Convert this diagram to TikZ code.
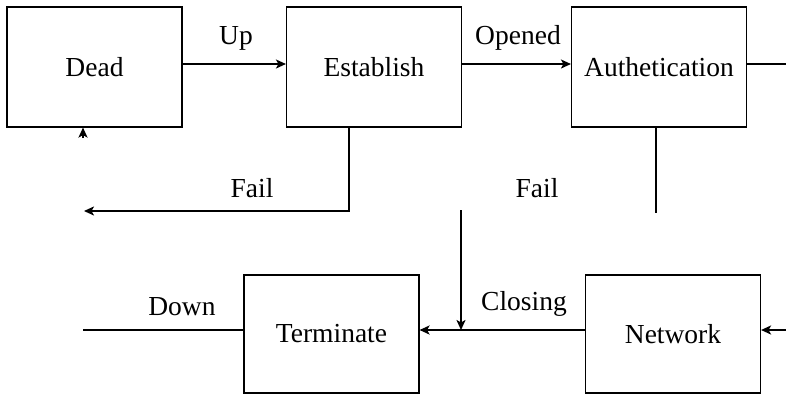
\documentclass[tikz,border=0pt]{standalone}
\usepackage{fontspec}
\setmainfont{Liberation Serif}
\usetikzlibrary{arrows.meta}
\begin{document}
\begin{tikzpicture}[x=1pt,y=-1pt,
  box/.style={draw,line width=1.1pt,minimum width=175pt,minimum height=120pt,inner sep=0pt,
    font=\fontsize{27.5}{30}\selectfont},
  lbl/.style={anchor=base,inner sep=0pt,font=\fontsize{27.5}{30}\selectfont},
  conn/.style={line width=2pt},
  arr/.style={conn,-{Stealth[length=10pt,width=9pt,inset=2.5pt]}}]
\useasboundingbox (0,0) rectangle (786,394);
% boxes
\node[box] (dead) at (94.5,67) {Dead};
\node[box] (est) at (374,67) {Establish};
\node[box] (auth) at (659,67) {Authetication};
\node[box,minimum height=118pt] (term) at (331.5,334) {Terminate};
\node[box,minimum height=118pt] (net) at (673,334) {Network};
% coordinates
\coordinate (topy) at (0,64);
\coordinate (boty) at (0,330);
\coordinate (efx) at (349,0);
\coordinate (ecorner) at (349,211);
\coordinate (eend) at (84,211);
\coordinate (deadin) at (83,138);
\coordinate (afx) at (656,0);
\coordinate (aend) at (656,213);
\coordinate (vtop) at (461,210);
\coordinate (vbot) at (461,330);
\coordinate (rtop) at (786,64);
\coordinate (rbot) at (786,330);
\coordinate (dend) at (83,330);
% connectors
\draw[arr] (dead.east |- topy) -- (est.west |- topy);
\draw[arr] (est.east |- topy) -- (auth.west |- topy);
\draw[conn] (auth.east |- topy) -- (rtop);
\draw[arr] (est.south -| efx) -- (ecorner) -- (eend);
\draw[arr] (deadin) -- (dead.south -| deadin);
\draw[conn] (auth.south -| afx) -- (aend);
\draw[arr] (vtop) -- (vbot);
\draw[arr] (net.west |- boty) -- (term.east |- boty);
\draw[arr] (rbot) -- (net.east |- boty);
\draw[conn] (term.west |- boty) -- (dend);
% labels
\node[lbl] (lup) at (236,44) {Up};
\node[lbl] (lopen) at (518,44) {Opened};
\node[lbl] (lfail1) at (252,197) {Fail};
\node[lbl] (lfail2) at (537,197) {Fail};
\node[lbl] (lclose) at (524,310) {Closing};
\node[lbl] (ldown) at (182,315) {Down};
\end{tikzpicture}
\end{document}
